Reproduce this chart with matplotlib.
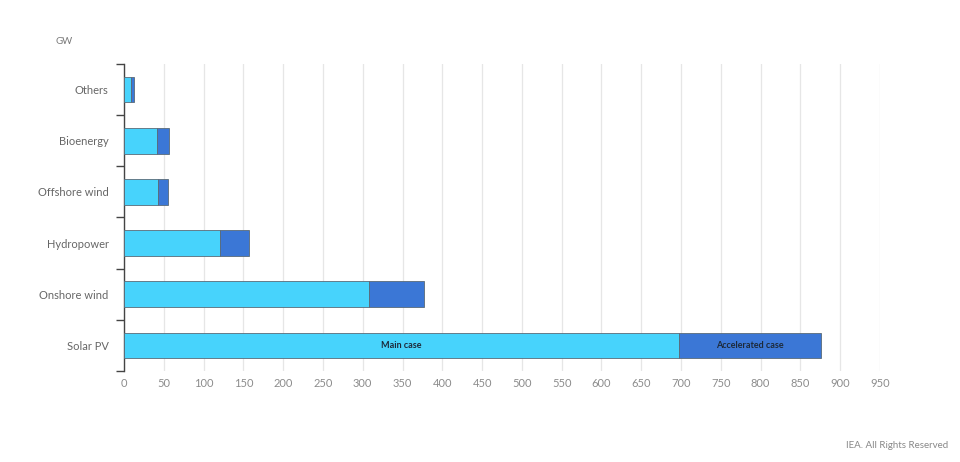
import numpy as np
import matplotlib
matplotlib.use('Agg')
import matplotlib.pyplot as plt

plt.rcParams['font.family'] = ['Lato', 'DejaVu Sans']

# ---- data (GW) ----
categories = ['Solar PV', 'Onshore wind', 'Hydropower', 'Offshore wind', 'Bioenergy', 'Others']
main_case = [697, 308, 121, 43, 41, 9]
accelerated_extra = [179, 69, 36, 12, 16, 3]
xticks = np.arange(0, 951, 50)

c_main = '#47D3FC'
c_acc = '#3B77D6'

fig = plt.figure(figsize=(9.6, 4.62), dpi=100)
ax = fig.add_axes([124/960, 1-371/462, (880-124)/960, (371-64)/462])

y = np.arange(len(categories))
ax.barh(y, main_case, height=0.5, color=c_main, edgecolor='#5a6b78', linewidth=0.6, zorder=3)
ax.barh(y, accelerated_extra, left=main_case, height=0.5, color=c_acc,
        edgecolor='#5a6b78', linewidth=0.6, zorder=3)

# labels inside solar bar
ax.text(main_case[0]/2, 0, 'Main case', ha='center', va='center', fontsize=6.5,
        fontweight='bold', color='#1d2a3a', zorder=4)
ax.text(main_case[0] + accelerated_extra[0]/2, 0, 'Accelerated case', ha='center', va='center',
        fontsize=6.5, fontweight='bold', color='#1d2a3a', zorder=4)

ax.set_xlim(0, 950)
ax.set_ylim(-0.5, len(categories) - 0.5)
ax.set_xticks(xticks)
ax.set_xticklabels([str(v) for v in xticks])
ax.set_yticks(y)
ax.set_yticklabels(categories)
ax.set_yticks(np.arange(-0.5, len(categories), 1.0), minor=True)

ax.tick_params(axis='x', length=0, labelsize=8, colors='#8c8c8c', pad=5)
ax.tick_params(axis='y', which='major', length=0, labelsize=8, labelcolor='#666666', pad=11)
ax.tick_params(axis='y', which='minor', length=6, width=1, color='#444444')

ax.grid(axis='x', color='#e6e6e6', linewidth=0.9, zorder=0)
for s in ['top', 'right', 'bottom']:
    ax.spines[s].set_visible(False)
ax.spines['left'].set_color('#444444')
ax.spines['left'].set_linewidth(1)

fig.text(55/960, 1-42/462, 'GW', fontsize=7, color='#777777', va='center')
fig.text(948/960, 1-446/462, 'IEA. All Rights Reserved', fontsize=7, color='#888888',
         ha='right', va='center')

fig.savefig('out.png', dpi=100)
